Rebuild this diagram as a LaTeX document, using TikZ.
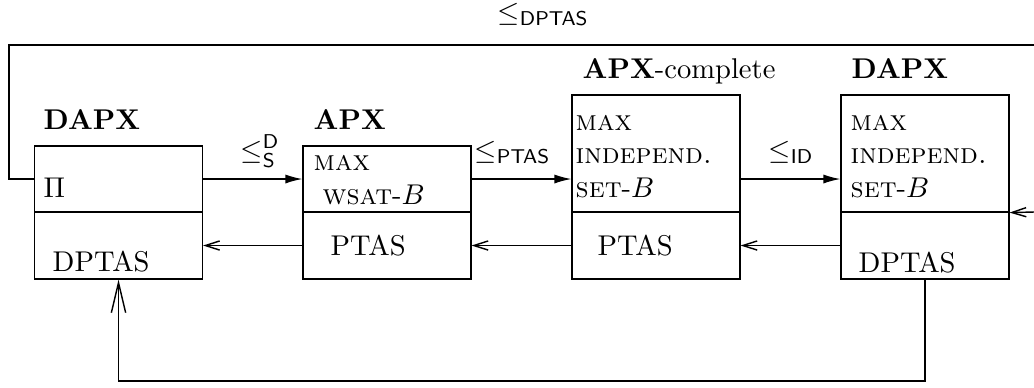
\documentclass[tikz,border=0pt]{standalone}
\usetikzlibrary{arrows.meta}
\begin{document}
\begin{tikzpicture}[x=0.35pt,y=-0.35pt, line width=0.5pt,
  part/.style={draw, line width=0.4pt, rectangle, inner sep=0pt, minimum width=58.8pt},
  toppart/.style={part, minimum height=23.1pt},
  tallpart/.style={part, minimum height=40.95pt},
  botpart/.style={part, minimum height=23.45pt},
  txt/.style={anchor=base west, inner sep=0pt},
  fwd/.style={-{Latex[length=6pt,width=3.2pt]}},
  back/.style={-{Straight Barb[length=5pt,width=3.2pt]}},
  bigback/.style={-{Straight Barb[length=10.5pt,width=5pt]}},
]
\useasboundingbox (0,0) rectangle (1034,387);

% boxes
\node[toppart]  (b1t) at (118.5,179)   {};
\node[botpart]  (b1b) at (118.5,245.5) {};
\node[toppart]  (b2t) at (387,179)     {};
\node[botpart]  (b2b) at (387,245.5)   {};
\node[tallpart] (b3t) at (656,153.5)   {};
\node[botpart]  (b3b) at (656,245.5)   {};
\node[tallpart] (b4t) at (925,153.5)   {};
\node[botpart]  (b4b) at (925,245.5)   {};

% titles
\node[txt] (t1) at (43,129)  {\textbf{DAPX}};
\node[txt] (t2) at (313,129) {\textbf{APX}};
\node[txt] (t3) at (582,78)  {\textbf{APX}-complete};
\node[txt] (t4) at (851,78)  {\textbf{DAPX}};

% box contents
\node[txt] (p1) at (43,197)  {$\Pi$};
\node[txt] (s1) at (52,271)  {DPTAS};
\node[txt] (p2a) at (313,170) {\textsc{max}};
\node[txt] (p2b) at (322,204) {\textsc{wsat}-$B$};
\node[txt] (s2) at (330,255) {PTAS};
\node[txt] (p3a) at (575,130) {\textsc{max}};
\node[txt] (p3b) at (575,163) {\textsc{independ.}};
\node[txt] (p3c) at (575,197) {\textsc{set}-$B$};
\node[txt] (s3) at (597,255) {PTAS};
\node[txt] (p4a) at (850,130) {\textsc{max}};
\node[txt] (p4b) at (850,163) {\textsc{independ.}};
\node[txt] (p4c) at (850,197) {\textsc{set}-$B$};
\node[txt] (s4) at (858,272) {DPTAS};

% forward arrows
\draw[fwd] (b1t.east) -- (b2t.west);
\draw[fwd] (b2t.east) -- (b2t.east -| b3t.west);
\draw[fwd] (b3t.east |- b2t.east) -- (b4t.west |- b2t.east);
\node[txt] (r1) at (240,159) {$\le^{\mathsf{D}}_{\mathsf{S}}$};
\node[txt] (r2) at (474,159) {$\le_{\mathsf{PTAS}}$};
\node[txt] (r3) at (768,159) {$\le_{\mathsf{ID}}$};

% backward arrows
\draw[back] (b2b.west) -- (b1b.east);
\draw[back] (b3b.west) -- (b2b.east);
\draw[back] (b4b.west) -- (b3b.east);

% incoming from right
\coordinate (rin) at (1034,212);
\draw[back] (rin) -- (b4t.south east);

% top loop
\coordinate (tl) at (9,45);
\coordinate (tr) at (1034,45);
\draw (b1t.west) -| (tl) -- (tr);
\node[txt] (r4) at (497,21) {$\le_{\mathsf{DPTAS}}$};

% bottom loop
\coordinate (bl) at (118.5,381);
\draw[bigback] (b4b.south) |- (bl) -- (b1b.south);
\end{tikzpicture}
\end{document}
